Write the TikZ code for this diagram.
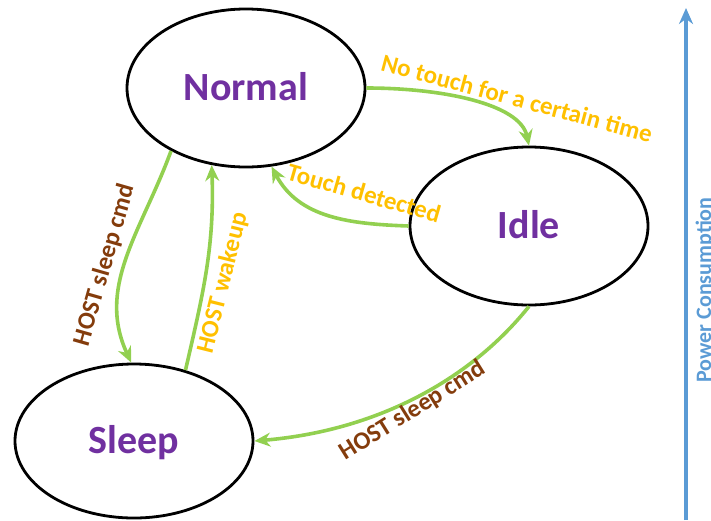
\documentclass[tikz,border=0pt]{standalone}
\usepackage{fontspec}
\setmainfont{Carlito}
\usepackage{tikz}
\usetikzlibrary{arrows.meta,shapes.geometric}

\definecolor{statepurple}{HTML}{7030A0}
\definecolor{edgegreen}{HTML}{92D050}
\definecolor{wakeorange}{HTML}{FFC000}
\definecolor{sleepbrown}{HTML}{843C0C}
\definecolor{powerblue}{HTML}{5B9BD5}

\begin{document}
\begin{tikzpicture}[x=1pt, y=-1pt,
	state/.style={draw, ellipse, line width=2.8pt, minimum width=238pt, minimum height=158pt,
		inner sep=0pt, text=statepurple, font=\fontsize{40}{40}\selectfont\bfseries,
		text height=25.8pt, text depth=0pt},
	trans/.style={draw=edgegreen, line width=3.6pt, -{Stealth[length=16pt, width=14pt]}},
	orangelabel/.style={text=wakeorange, inner sep=0pt, font=\fontsize{25}{25}\selectfont\bfseries},
	brownlabel/.style={text=sleepbrown, inner sep=0pt, font=\fontsize{25}{25}\selectfont\bfseries}]
	\useasboundingbox (0,0) rectangle (711,520);
	\clip (0,0) rectangle (711,520);

	% The three states
	\node [state] (normal) at (246,88) {Normal};
	\node [state] (idle) at (529,226) {Idle};
	\node [state, minimum height=154pt] (sleep) at (134,441) {Sleep};

	% Transitions between the states
	\draw [trans] (normal.east) .. controls +(75,0) and +(-9,-42) .. (idle.north);
	\draw [trans] (idle.west) to[out=178, in=-62] (normal.-72);
	\draw [trans] (normal.-140) to[out=-110, in=115] (sleep.92);
	\draw [trans] (sleep.54) to[out=77, in=-88] (normal.-114);
	\draw [trans] (idle.south) .. controls +(-60,75) and +(120,-10) .. (sleep.east);

	% Edge annotations
	\node [orangelabel, rotate=-15] (notouch) at (517,98) {No touch for a certain time};
	\node [orangelabel, rotate=-16] (touched) at (364,193) {Touch detected};
	\node [brownlabel, rotate=74] (hostsleepA) at (105,265) {HOST sleep cmd};
	\node [orangelabel, rotate=76] (wakeup) at (223,283) {HOST wakeup};
	\node [brownlabel, rotate=32] (hostsleepB) at (413,411) {HOST sleep cmd};

	% Power consumption axis
	\coordinate (axisbottom) at (686,520);
	\coordinate (axistop) at (686,8);
	\draw [draw=powerblue, line width=3.2pt, -{Stealth[length=16pt, width=14pt]}] (axisbottom) -- (axistop);
	\node [rotate=90, anchor=base, text=powerblue, font=\fontsize{22}{22}\selectfont\bfseries] (power) at (711,290) {Power Consumption};
\end{tikzpicture}
\end{document}
